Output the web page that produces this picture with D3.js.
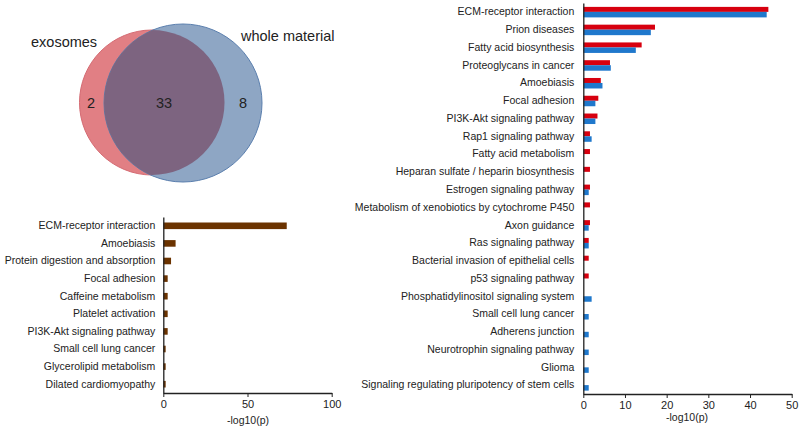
<!DOCTYPE html>
<html><head><meta charset="utf-8">
<script src="https://cdn.jsdelivr.net/npm/d3@7"></script>
<style>
body{margin:0;background:#fff;}
text{font-family:"Liberation Sans",Arial,sans-serif;fill:#222;}
</style></head>
<body><svg id="c" width="800" height="430"></svg>
<script>
// ---- Venn data ----
const vennLabels = ["exosomes", "whole material"];
const vennCounts = [2, 33, 8]; // only exosomes, both, only whole material

// ---- Left chart data ----
const leftCategories = ["ECM-receptor interaction","Amoebiasis","Protein digestion and absorption","Focal adhesion","Caffeine metabolism","Platelet activation","PI3K-Akt signaling pathway","Small cell lung cancer","Glycerolipid metabolism","Dilated cardiomyopathy"];
const leftValues = [73.3, 7.3, 4.6, 2.6, 2.6, 2.6, 2.6, 1.4, 1.4, 1.4];
const leftTicks = [0, 50, 100];

// ---- Right chart data ----
const rightCategories = ["ECM-receptor interaction","Prion diseases","Fatty acid biosynthesis","Proteoglycans in cancer","Amoebiasis","Focal adhesion","PI3K-Akt signaling pathway","Rap1 signaling pathway","Fatty acid metabolism","Heparan sulfate / heparin biosynthesis","Estrogen signaling pathway","Metabolism of xenobiotics by cytochrome P450","Axon guidance","Ras signaling pathway","Bacterial invasion of epithelial cells","p53 signaling pathway","Phosphatidylinositol signaling system","Small cell lung cancer","Adherens junction","Neurotrophin signaling pathway","Glioma","Signaling regulating pluripotency of stem cells"];
const exosomeValues = [44.4, 17.2, 14.0, 6.4, 4.2, 3.6, 3.4, 1.6, 1.6, 1.6, 1.6, 1.6, 1.6, 1.3, 1.3, 1.3, 0, 0, 0, 0, 0, 0];
const wholeValues   = [44.0, 16.2, 12.6, 6.6, 4.6, 2.9, 2.9, 2.0, 0, 0, 1.3, 0, 1.3, 1.3, 0, 0, 2.0, 1.3, 1.3, 1.3, 1.3, 1.3];
const rightTicks = [0, 10, 20, 30, 40, 50];
const axisTitle = "-log10(p)";

const svg = d3.select("#c");
const FS = "10.5px";

// ---- Venn ----
const venn = svg.append("g");
const cA = {x:152, y:102.5, r:72.5}, cB = {x:183, y:103, r:79};
const defs = svg.append("defs");
defs.append("clipPath").attr("id","clipA").append("circle").attr("cx",cA.x).attr("cy",cA.y).attr("r",cA.r);
venn.append("circle").attr("cx",cA.x).attr("cy",cA.y).attr("r",cA.r).attr("fill","#e17f84").attr("stroke","#d46a72").attr("stroke-width",1);
venn.append("circle").attr("cx",cB.x).attr("cy",cB.y).attr("r",cB.r).attr("fill","#8ea6c4").attr("stroke","#5b7fae").attr("stroke-width",1);
venn.append("circle").attr("cx",cB.x).attr("cy",cB.y).attr("r",cB.r).attr("clip-path","url(#clipA)").attr("fill","#7d6480");
venn.append("text").attr("x",31).attr("y",47).attr("font-size","14.5px").text(vennLabels[0]);
venn.append("text").attr("x",241).attr("y",41).attr("font-size","14.5px").text(vennLabels[1]);
const numPos = [91, 164, 243];
vennCounts.forEach((v,i)=>{
  venn.append("text").attr("x",numPos[i]).attr("y",108).attr("text-anchor","middle").attr("font-size","14.5px").text(v);
});

// ---- Left bar chart ----
const lx = d3.scaleLinear().domain([0,100]).range([163.3,331.7]);
const ly = d3.scaleBand().domain(leftCategories).range([217,393]);
const lg = svg.append("g");
lg.selectAll("rect").data(leftCategories).join("rect")
  .attr("x", lx(0)).attr("y", d=>ly(d)+ly.bandwidth()/2-3.3)
  .attr("width", (d,i)=>lx(leftValues[i])-lx(0)).attr("height",6.6)
  .attr("fill","#6b3300");
const lxa = lg.append("g").attr("transform","translate(0,393)")
  .call(d3.axisBottom(lx).tickValues(leftTicks).tickSize(4).tickSizeOuter(0).tickFormat(d3.format("d")));
const lya = lg.append("g").attr("transform",`translate(${lx(0)},0)`)
  .call(d3.axisLeft(ly).tickSize(0).tickPadding(8));
lg.append("text").attr("x",248).attr("y",424).attr("text-anchor","middle").attr("font-size",FS).text(axisTitle);

// ---- Right bar chart ----
const rx = d3.scaleLinear().domain([0,50]).range([583.3,791.7]);
const ry = d3.scaleBand().domain(rightCategories).range([3,394]);
const rg = svg.append("g");
rg.selectAll("rect.ex").data(rightCategories).join("rect").attr("class","ex")
  .attr("x", rx(0)).attr("y", d=>ry(d)+ry.bandwidth()/2-5)
  .attr("width",(d,i)=>rx(exosomeValues[i])-rx(0)).attr("height",5)
  .attr("fill","#d7000f");
rg.selectAll("rect.wh").data(rightCategories).join("rect").attr("class","wh")
  .attr("x", rx(0)).attr("y", d=>ry(d)+ry.bandwidth()/2)
  .attr("width",(d,i)=>rx(wholeValues[i])-rx(0)).attr("height",5.5)
  .attr("fill","#1f78cc");
const rxa = rg.append("g").attr("transform","translate(0,394)")
  .call(d3.axisBottom(rx).tickValues(rightTicks).tickSize(4).tickSizeOuter(0).tickFormat(d3.format("d")));
const rya = rg.append("g").attr("transform",`translate(${rx(0)},0)`)
  .call(d3.axisLeft(ry).tickSize(0).tickPadding(9));
rg.append("text").attr("x",687).attr("y",421).attr("text-anchor","middle").attr("font-size",FS).text(axisTitle);

[lxa,lya,rxa,rya].forEach(a=>{
  a.selectAll("path.domain").attr("stroke","#222").attr("stroke-width",1.3);
  a.selectAll("line").attr("stroke","#222");
  a.selectAll("text").attr("font-size",FS).attr("font-family","Liberation Sans, Arial, sans-serif").attr("fill","#222");
});
lxa.selectAll("text").attr("font-size","11px");
rxa.selectAll("text").attr("font-size","11px");
</script></body></html>
